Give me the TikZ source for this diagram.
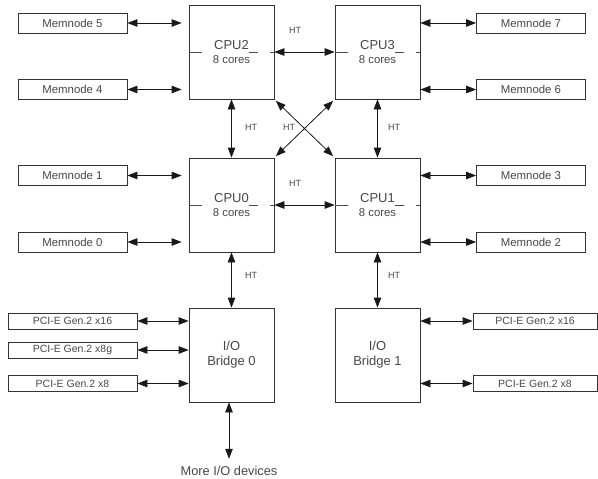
\documentclass[tikz,border=0pt]{standalone}
\usepackage{fontspec}
\setmainfont{Liberation Sans}
\usetikzlibrary{arrows.meta}

\begin{document}
\begin{tikzpicture}
  [x=1pt,y=-1pt,
   every node/.style={text=black!72,font=\fontsize{11.4}{13}\selectfont},
   cpu/.style={draw=black!80,line width=0.8pt,minimum width=85pt,minimum height=94pt,
     align=center,inner sep=0pt},
   mem/.style={draw=black!80,line width=0.8pt,minimum width=109pt,minimum height=20pt,inner sep=0pt},
   pci/.style={draw=black!80,line width=0.8pt,minimum width=129pt,minimum height=16pt,inner sep=0pt,
     font=\fontsize{10.5}{12}\selectfont},
   ht/.style={font=\fontsize{9}{10}\selectfont},
   tick/.style={draw=black!70,line width=0.8pt},
   link/.style={draw=black!90,line width=0.8pt,
     {Triangle[length=10pt,width=7.5pt]}-{Triangle[length=10pt,width=7.5pt]}}]
  \useasboundingbox (0,0) rectangle (598,479);

  \node[cpu] (cpu2) at (231.5,52)  {{\fontsize{13}{13}\selectfont CPU2}\\[1pt]8 cores};
  \node[cpu] (cpu3) at (377.5,52)  {{\fontsize{13}{13}\selectfont CPU3}\\[1pt]8 cores};
  \node[cpu] (cpu0) at (231.5,205) {{\fontsize{13}{13}\selectfont CPU0}\\[1pt]8 cores};
  \node[cpu] (cpu1) at (377.5,205) {{\fontsize{13}{13}\selectfont CPU1}\\[1pt]8 cores};
  \node[cpu,font=\fontsize{13}{15}\selectfont] (br0) at (231.5,355) {I/O\\Bridge 0};
  \node[cpu,font=\fontsize{13}{15}\selectfont] (br1) at (377.5,355) {I/O\\Bridge 1};

  \node[mem] (mem5) at (72.5,23)   {Memnode 5};
  \node[mem] (mem4) at (72.5,89.5) {Memnode 4};
  \node[mem] (mem1) at (72.5,175.5) {Memnode 1};
  \node[mem] (mem0) at (72.5,242)  {Memnode 0};
  \node[mem] (mem7) at (531,23)    {Memnode 7};
  \node[mem] (mem6) at (531,89.5)  {Memnode 6};
  \node[mem] (mem3) at (531,175.5) {Memnode 3};
  \node[mem] (mem2) at (531,242)   {Memnode 2};

  \node[pci] (pcia) at (72.5,321)   {PCI-E Gen.2 x16};
  \node[pci] (pcib) at (72.5,350)   {PCI-E Gen.2 x8g};
  \node[pci] (pcic) at (72.5,383.5) {PCI-E Gen.2 x8};
  \node[pci,minimum width=124pt] (pcid) at (535,321)   {PCI-E Gen.2 x16};
  \node[pci,minimum width=124pt] (pcie) at (535,383.5) {PCI-E Gen.2 x8};

  \node[font=\fontsize{12.8}{14}\selectfont] (more) at (229,471) {More I/O devices};

  \node[ht] (ht23) at (295,30)  {HT};
  \node[ht] (ht01) at (295,183) {HT};
  \node[ht] (ht20) at (251,127) {HT};
  \node[ht] (ht31) at (394,127) {HT};
  \node[ht] (htx)  at (289,127) {HT};
  \node[ht] (htb0) at (251,275) {HT};
  \node[ht] (htb1) at (394,275) {HT};

  % midline marks
  \foreach \c in {cpu0,cpu1,cpu2,cpu3} {
    \draw[tick] (\c.west) -- ++(13,0);
    \draw[tick] (\c.east) -- ++(-4,0);
    \draw[tick] ([xshift=17pt]\c.center) -- ++(9,0);
  }

  \foreach \from/\to in {cpu2/cpu3,cpu0/cpu1}
  \draw[link] (\from.east) -- (\to.west);
  \foreach \from/\to in {cpu2/cpu0,cpu3/cpu1,cpu0/br0,cpu1/br1}
  \draw[link] (\from.south) -- (\to.north);
  \draw[link,shorten <=2pt,shorten >=2pt] (cpu2.south east) -- (cpu1.north west);
  \draw[link,shorten <=2pt,shorten >=2pt] (cpu3.south west) -- (cpu0.north east);

  \foreach \m/\c in {mem5/cpu2,mem4/cpu2,mem1/cpu0,mem0/cpu0}
  \draw[link,shorten >=7pt] (\m.east) -- (\m.east -| \c.west);
  \foreach \m/\c in {mem7/cpu3,mem6/cpu3,mem3/cpu1,mem2/cpu1}
  \draw[link] (\m.west -| \c.east) -- (\m.west);

  \foreach \p in {pcia,pcib,pcic}
  \draw[link] (\p.east) -- (\p.east -| br0.west);
  \foreach \p in {pcid,pcie}
  \draw[link] (\p.west -| br1.east) -- (\p.west);
  \draw[link,shorten >=4pt] (more.north |- br0.south) -- (more.north);

\end{tikzpicture}
\end{document}
